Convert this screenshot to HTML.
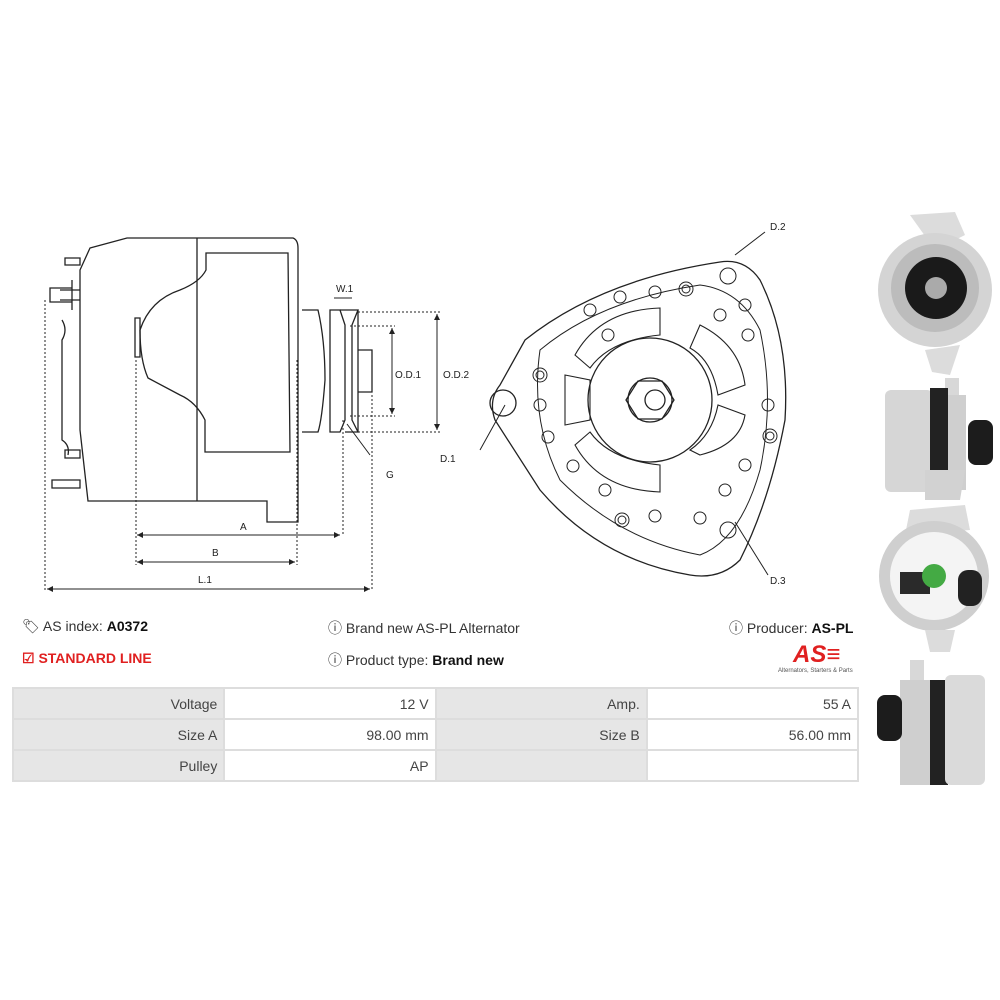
<!DOCTYPE html>
<html><head><meta charset="utf-8"><style>
body{margin:0;width:1000px;height:1000px;background:#fff;font-family:"Liberation Sans",sans-serif;position:relative;overflow:hidden}
.t{position:absolute;font-size:14px;color:#333;white-space:nowrap}
b{color:#111}
table{position:absolute;left:12px;top:687px;border-collapse:collapse;width:847px}
td{height:29px;border:2px solid #ddd;font-size:14px;color:#444;text-align:right;padding:0 6px;width:199px}
td.g{background:#e6e6e6}
</style></head><body>
<svg width="1000" height="620" style="position:absolute;left:0;top:0" fill="none" stroke="#222" stroke-width="1.3" font-family="Liberation Sans" font-size="10">
<path d="M90,248 L127,238 L293,238 Q298,240 298,248 L298,522 L267,522 L267,501 L88,501 L80,430 L80,270 Z"/>
<path d="M197,238 L197,501"/>
<path d="M206,253 L288,253 L290,452 L205,452 L205,420 Q196,402 180,395 L148,378 Q140,360 140,330 Q150,300 180,290 Q200,282 206,270 Z"/>
<path d="M135,318 L140,318 L140,357 L135,357Z"/>
<path d="M302,310 L318,310 Q325,340 325,380 Q322,420 318,432 L302,432"/>
<path d="M330,310 L340,310 L345,325 L345,420 L340,432 L330,432 Z"/>
<path d="M340,310 L358,310 L352,325 L352,420 L358,432 L345,432"/>
<path d="M358,310 L358,432"/>
<path d="M358,350 L372,350 L372,392 L358,392"/>
<path d="M60,300 L80,300 M60,290 L80,290 M50,292 L50,302 M72,280 L72,310 M65,258 L80,258 L80,265 L65,265Z M50,288 L72,288 L72,302 L50,302Z M52,480 L80,480 L80,488 L52,488Z M65,450 L80,450 L80,458 L65,458Z M62,320 Q68,330 62,340 L62,440 Q70,445 68,455"/>
<g stroke-dasharray="2,2" stroke-width="1">
<path d="M45,300 L45,590 M136,360 L136,565 M297,360 L297,565 M343,420 L343,535 M372,395 L372,590 M358,312 L440,312 M358,432 L440,432 M350,326 L395,326 M350,416 L395,416"/>
</g>
<g stroke-width="1">
<path d="M137,535 L340,535 M137,562 L295,562 M47,589 L370,589 M392,328 L392,414 M437,314 L437,430 M334,298 L352,298 M370,455 L347,424 M505,405 L480,450"/>
</g>
<g fill="#222" stroke="none">
<path d="M137,535 l6,-3 v6z M340,535 l-6,-3 v6z M137,562 l6,-3 v6z M295,562 l-6,-3 v6z M47,589 l6,-3 v6z M370,589 l-6,-3 v6z M392,328 l-3,6 h6z M392,414 l-3,-6 h6z M437,314 l-3,6 h6z M437,430 l-3,-6 h6z"/>
<text x="240" y="530">A</text><text x="212" y="556">B</text><text x="198" y="583">L.1</text>
<text x="336" y="292">W.1</text><text x="395" y="378">O.D.1</text><text x="443" y="378">O.D.2</text>
<text x="386" y="478">G</text><text x="440" y="462">D.1</text><text x="770" y="230">D.2</text><text x="770" y="584">D.3</text>
</g>
<path d="M525,340 Q600,280 720,262 Q745,258 760,280 Q790,340 785,420 Q770,500 740,560 Q720,580 690,575 Q600,560 540,490 L495,420 Q488,400 500,385 Z"/>
<path d="M540,350 Q600,300 700,285 Q740,290 760,330 Q775,400 760,470 Q740,540 700,555 Q620,540 560,480 Q530,420 540,350Z" stroke-width="1"/>
<circle cx="650" cy="400" r="62"/>
<circle cx="650" cy="400" r="22"/><path d="M638,381 L662,381 L674,400 L662,419 L638,419 L626,400Z"/>
<circle cx="655" cy="400" r="10"/>
<circle cx="503" cy="403" r="13"/>
<path d="M575,355 Q600,310 660,308 L660,335 Q610,340 590,368Z M700,325 Q740,345 745,385 L718,395 Q712,360 690,348Z M700,455 Q740,445 745,415 L718,405 Q712,435 690,450Z M575,445 Q600,490 660,492 L660,465 Q610,460 590,432Z M565,375 L590,380 L590,420 L565,425Z" stroke-width="1.1"/>
<g stroke-width="1">
<circle cx="728" cy="276" r="8"/><circle cx="728" cy="530" r="8"/>
<circle cx="686" cy="289" r="7"/><circle cx="686" cy="289" r="4"/>
<circle cx="770" cy="436" r="7"/><circle cx="770" cy="436" r="4"/>
<circle cx="622" cy="520" r="7"/><circle cx="622" cy="520" r="4"/>
<circle cx="540" cy="375" r="7"/><circle cx="540" cy="375" r="4"/>
<circle cx="655" cy="292" r="6"/><circle cx="620" cy="297" r="6"/><circle cx="590" cy="310" r="6"/><circle cx="608" cy="335" r="6"/>
<circle cx="745" cy="305" r="6"/><circle cx="720" cy="315" r="6"/><circle cx="748" cy="335" r="6"/><circle cx="768" cy="405" r="6"/>
<circle cx="745" cy="465" r="6"/><circle cx="725" cy="490" r="6"/><circle cx="700" cy="518" r="6"/><circle cx="655" cy="516" r="6"/>
<circle cx="548" cy="437" r="6"/><circle cx="573" cy="466" r="6"/><circle cx="605" cy="490" r="6"/><circle cx="540" cy="405" r="6"/>
</g>
<path d="M735,255 L765,232 M735,522 L768,575" stroke-width="1"/>
</svg>
<svg width="130" height="600" style="position:absolute;left:870px;top:200px" stroke="none">
<!-- photo 1 -->
<path d="M40,15 L85,12 L95,35 L65,50Z" fill="#dcdcdc"/>
<path d="M55,150 L90,145 L80,175 L62,172Z" fill="#dcdcdc"/>
<circle cx="65" cy="90" r="57" fill="#d4d4d4"/>
<circle cx="65" cy="88" r="44" fill="#bcbcbc"/>
<circle cx="66" cy="88" r="31" fill="#1a1a1a"/>
<circle cx="66" cy="88" r="11" fill="#aaa"/>
<!-- photo 2 -->
<rect x="75" y="178" width="14" height="30" fill="#d8d8d8"/>
<rect x="15" y="190" width="48" height="102" rx="6" fill="#d6d6d6"/>
<rect x="60" y="188" width="18" height="108" fill="#222"/>
<rect x="78" y="195" width="18" height="95" fill="#cfcfcf"/>
<path d="M55,270 L95,270 L90,300 L55,300Z" fill="#d2d2d2"/>
<rect x="98" y="220" width="25" height="45" rx="8" fill="#1c1c1c"/>
<!-- photo 3 -->
<path d="M40,310 L95,305 L100,330 L35,335Z" fill="#dcdcdc"/>
<circle cx="64" cy="376" r="55" fill="#cfcfcf"/>
<circle cx="64" cy="376" r="44" fill="#f4f4f4"/>
<rect x="88" y="370" width="24" height="36" rx="10" fill="#222"/>
<rect x="30" y="372" width="30" height="22" fill="#2a2a2a"/>
<circle cx="64" cy="376" r="12" fill="#4a4"/>
<path d="M55,430 L85,430 L80,452 L60,452Z" fill="#dcdcdc"/>
<!-- photo 4 -->
<rect x="40" y="460" width="14" height="40" fill="#d8d8d8"/>
<rect x="30" y="480" width="35" height="105" fill="#cfcfcf"/>
<rect x="60" y="480" width="18" height="105" fill="#222"/>
<rect x="75" y="475" width="40" height="110" rx="6" fill="#dadada"/>
<rect x="7" y="495" width="25" height="46" rx="8" fill="#1c1c1c"/>
</svg>
<div class="t" style="left:22px;top:618px">🏷 AS index: <b>A0372</b></div>
<div class="t" style="left:22px;top:650px;color:#e02020;font-weight:bold">☑ STANDARD LINE</div>
<div class="t" style="left:328px;top:618px">ⓘ Brand new AS-PL Alternator</div>
<div class="t" style="left:328px;top:650px">ⓘ Product type: <b>Brand new</b></div>
<div class="t" style="left:729px;top:618px">ⓘ Producer: <b>AS-PL</b></div>
<div class="t" style="left:793px;top:641px;color:#e02020;font-weight:bold;font-style:italic;font-size:24px">AS≡</div>
<div class="t" style="left:778px;top:668px;font-size:6px;color:#555">Alternators, Starters &amp; Parts</div>
<table>
<tr><td class="g">Voltage</td><td>12 V</td><td class="g">Amp.</td><td>55 A</td></tr>
<tr><td class="g">Size A</td><td>98.00 mm</td><td class="g">Size B</td><td>56.00 mm</td></tr>
<tr><td class="g">Pulley</td><td>AP</td><td class="g"></td><td></td></tr>
</table>
</body></html>
